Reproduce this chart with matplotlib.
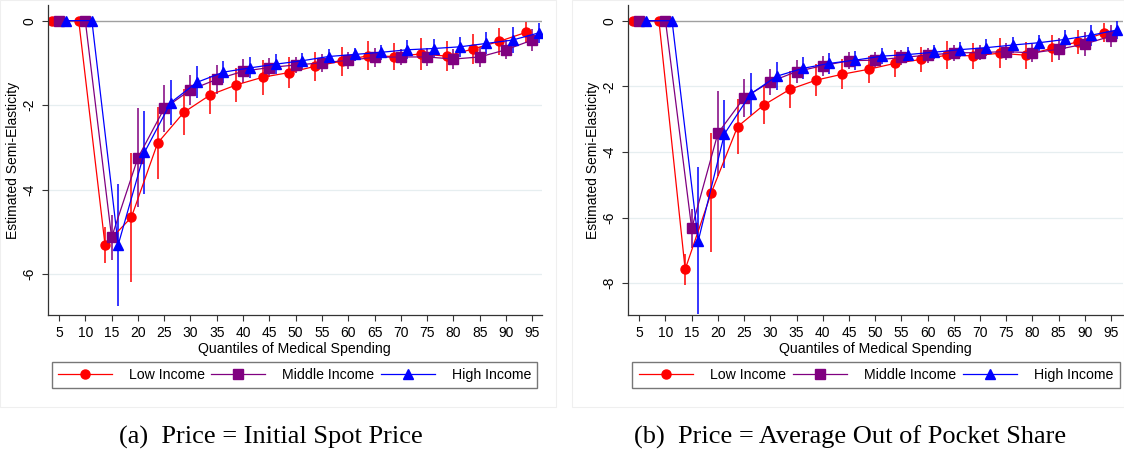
import matplotlib
matplotlib.use("Agg")
import matplotlib.pyplot as plt
from matplotlib.lines import Line2D
from matplotlib.patches import Rectangle

plt.rcParams['font.family'] = ['Liberation Sans', 'DejaVu Sans']
plt.rcParams['axes.unicode_minus'] = False

# quantiles of medical spending
quantiles = [5, 10, 15, 20, 25, 30, 35, 40, 45, 50, 55, 60, 65, 70, 75, 80, 85, 90, 95]

# (a) price = initial spot price
spot_low = [0, 0, -5.31, -4.66, -2.90, -2.17, -1.76, -1.52, -1.34, -1.23, -1.08, -0.96,
            -0.83, -0.85, -0.79, -0.84, -0.67, -0.49, -0.28]
spot_low_se = [0, 0, 0.42, 1.52, 0.85, 0.54, 0.45, 0.40, 0.41, 0.37, 0.34, 0.34,
               0.34, 0.32, 0.37, 0.36, 0.35, 0.32, 0.25]
spot_mid = [0, 0, -5.13, -3.25, -2.08, -1.64, -1.39, -1.20, -1.11, -1.05, -1.00, -0.94,
            -0.87, -0.86, -0.86, -0.91, -0.86, -0.69, -0.46]
spot_mid_se = [0, 0, 0.53, 1.17, 0.56, 0.36, 0.34, 0.28, 0.23, 0.20, 0.21, 0.20,
               0.22, 0.19, 0.22, 0.24, 0.23, 0.23, 0.26]
spot_high = [0, 0, -5.31, -3.12, -1.94, -1.46, -1.22, -1.12, -1.03, -0.95, -0.85, -0.80,
             -0.75, -0.69, -0.66, -0.62, -0.54, -0.46, -0.29]
spot_high_se = [0, 0, 1.45, 0.99, 0.53, 0.38, 0.26, 0.25, 0.23, 0.19, 0.18, 0.16,
                0.18, 0.22, 0.22, 0.23, 0.26, 0.30, 0.24]

# (b) price = average out of pocket share
oop_low = [0, 0, -7.58, -5.24, -3.23, -2.57, -2.09, -1.81, -1.63, -1.48, -1.30, -1.18,
           -1.05, -1.07, -0.99, -1.05, -0.84, -0.64, -0.37]
oop_low_se = [0, 0, 0.48, 1.81, 0.83, 0.58, 0.57, 0.49, 0.46, 0.41, 0.40, 0.38,
              0.42, 0.39, 0.46, 0.41, 0.41, 0.37, 0.29]
oop_mid = [0, 0, -6.33, -3.43, -2.35, -1.86, -1.55, -1.37, -1.22, -1.20, -1.12, -1.05,
           -0.98, -0.97, -0.94, -0.98, -0.87, -0.71, -0.47]
oop_mid_se = [0, 0, 0.59, 1.29, 0.57, 0.39, 0.36, 0.30, 0.26, 0.25, 0.24, 0.23,
              0.25, 0.23, 0.26, 0.27, 0.33, 0.36, 0.33]
oop_high = [0, 0, -6.71, -3.45, -2.23, -1.69, -1.45, -1.30, -1.20, -1.08, -1.03, -0.96,
            -0.88, -0.82, -0.74, -0.67, -0.57, -0.44, -0.28]
oop_high_se = [0, 0, 2.24, 1.04, 0.64, 0.42, 0.33, 0.33, 0.29, 0.25, 0.23, 0.22,
               0.24, 0.25, 0.25, 0.24, 0.28, 0.32, 0.28]

group_names = ['Low Income', 'Middle Income', 'High Income']
group_colors = ['#ff0000', '#800080', '#0000ff']
group_markers = ['o', 's', '^']
group_shift = [-1.25, 0.0, 1.25]

W, H = 1124, 450
fig = plt.figure(figsize=(W / 100, H / 100), dpi=100)

# light panel frames
fig.patches.append(Rectangle((0, 1 - 407 / H), 556 / W, 407 / H, transform=fig.transFigure,
                             fill=False, edgecolor='#efefef', linewidth=0.8))
fig.patches.append(Rectangle((572 / W, 1 - 407 / H), (W - 572) / W, 407 / H,
                             transform=fig.transFigure, fill=False, edgecolor='#efefef',
                             linewidth=0.8))


def panel(rect, xlim, series, ylim, yticks, legend_box, caption, cap_x):
    ax = fig.add_axes(rect)
    handles = []
    for (vals, errs), name, c, m, dx in zip(series, group_names, group_colors,
                                            group_markers, group_shift):
        xs = [q + dx for q in quantiles]
        ax.errorbar(xs, vals, yerr=errs, color=c, marker=m, markersize=6.5,
                    linewidth=0.9, elinewidth=1.1, capsize=0)
        handles.append(Line2D([], [], color=c, marker=m, markersize=6.5,
                              linewidth=0.9, label=name))
    ax.axhline(0, color='#a0a0a0', linewidth=1.0, zorder=0)
    for t in yticks:
        if t != 0:
            ax.axhline(t, color='#e6eef0', linewidth=0.9, zorder=0)
    ax.set_xlim(*xlim)
    ax.set_ylim(*ylim)
    ax.set_xticks(quantiles)
    ax.set_xticklabels([str(q) for q in quantiles], fontsize=10)
    ax.set_yticks(yticks)
    ax.set_yticklabels([str(t) for t in yticks], fontsize=10, rotation=90, va='center')
    ax.tick_params(axis='both', length=4, width=0.8, color='#333333', pad=4)
    ax.spines['top'].set_visible(False)
    ax.spines['right'].set_visible(False)
    for s in ('left', 'bottom'):
        ax.spines[s].set_color('#333333')
        ax.spines[s].set_linewidth(0.9)
    ax.set_xlabel('Quantiles of Medical Spending', fontsize=10.2, labelpad=1)
    ax.set_ylabel('Estimated Semi-Elasticity', fontsize=10, labelpad=2)
    leg = ax.legend(handles=handles, loc='lower left', ncol=3, mode='expand',
                    bbox_to_anchor=legend_box, bbox_transform=fig.transFigure,
                    fontsize=10.2, fancybox=False, edgecolor='#555555',
                    handlelength=3.8, borderpad=0.45, handletextpad=1.2,
                    columnspacing=2.0, borderaxespad=0)
    leg.get_frame().set_linewidth(1.0)
    fig.text(cap_x, 1 - 437 / H, caption, family=['Liberation Serif', 'DejaVu Serif'],
             fontsize=19, ha='center', va='center')
    return ax


panel([47.7 / W, 135 / H, (542 - 47.7) / W, 310 / H], (2.85, 96.85),
      list(zip([spot_low, spot_mid, spot_high], [spot_low_se, spot_mid_se, spot_high_se])),
      (-6.97, 0.37), [0, -2, -4, -6],
      (51.7 / W, 1 - 388.3 / H, 485.6 / W, 26.6 / H),
      '(a)  Price = Initial Spot Price', 271 / W)

panel([627.5 / W, 135 / H, (1123 - 627.5) / W, 310 / H], (2.75, 97.3),
      list(zip([oop_low, oop_mid, oop_high], [oop_low_se, oop_mid_se, oop_high_se])),
      (-8.97, 0.48), [0, -2, -4, -6, -8],
      (632.3 / W, 1 - 388.3 / H, (1120 - 632.3) / W, 26.6 / H),
      '(b)  Price = Average Out of Pocket Share', 850 / W)

fig.savefig('out.png', dpi=100, facecolor='white')
